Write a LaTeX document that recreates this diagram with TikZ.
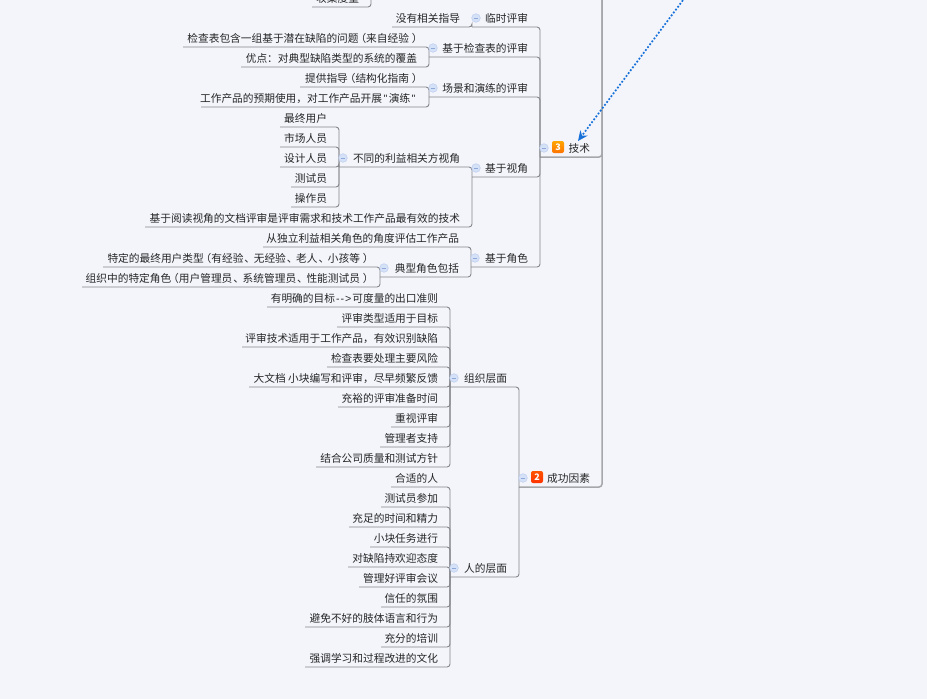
\documentclass[tikz,border=0pt]{standalone}
\usepackage{fontspec}
\setmainfont{Noto Sans CJK SC}
\newfontfamily\mmlatin{Liberation Sans}
\usetikzlibrary{arrows.meta,calc}
\definecolor{bgc}{HTML}{F3F5FB}
\definecolor{linec}{HTML}{84868C}
\definecolor{mainc}{HTML}{A6A7AB}
\definecolor{txtc}{HTML}{262626}
\definecolor{btnf}{HTML}{D5E1F7}
\definecolor{btnd}{HTML}{BCCDEE}
\definecolor{btnm}{HTML}{8FA8DA}
\definecolor{arrc}{HTML}{1570D8}
\tikzset{
  conn/.style={draw=linec,line width=0.9pt,rounded corners=3pt},
  mainconn/.style={draw=mainc,line width=1.5pt,rounded corners=3pt},
  topicbox/.style={inner sep=0pt,outer sep=0pt,minimum height=16pt,anchor=south west,text=txtc,font=\fontsize{10.7pt}{12pt}\selectfont,text height=8pt,text depth=2pt},
  btn/.style={circle,draw=btnd,fill=btnf,line width=0.5pt,minimum size=8.6pt,inner sep=0pt},
  badge/.style={rounded corners=2pt,minimum size=12pt,inner sep=0pt,text=white,font=\fontsize{9pt}{9pt}\selectfont\bfseries},
  anchorpt/.style={inner sep=0pt,outer sep=0pt,minimum size=0pt},
  linkarrow/.style={draw=arrc,line width=1.7pt,dash pattern=on 1.8pt off 1.8pt,-{Stealth[length=10pt,width=9pt]}}
}
\newcommand\mmLP{\hspace{-3.1pt}（}
\newcommand\mmRP{\hspace{3pt}）\hspace{-5.7pt}}
\newcommand\mmDN{\hspace{1pt}、\hspace{-1.4pt}}
\newcommand\mmQ{{\mmlatin\kern1.5pt\char"22\kern1.5pt}}
\newcommand\mmARR{{\mmlatin\kern1pt-\kern1pt-\kern1pt>\kern1pt}}
% [style]{name}{parent}{left}{right}{line y}{text}
\newcommand\mmtopic[7][conn]{%
  \pgfmathsetmacro\mmw{#5-#4}%
  \node[topicbox,minimum width=\mmw pt] (#2) at (#4,#6) {\makebox[\mmw pt][r]{#7\hspace{12pt}}};
  \draw[#1] (#2.south west) -- (#2.south east) -- (#3.south west);
}
\newcommand\mmbtn[1]{\node[btn] (#1-b) at ([shift={(4pt,9pt)}]#1.south west) {\textcolor{btnm}{\rule[0.2pt]{4.6pt}{0.7pt}}};}
\begin{document}
\begin{tikzpicture}[x=1pt,y=-1pt]
\path[use as bounding box,fill=bgc] (0,0) rectangle (927,699);
\begin{scope}
\clip (0,0) rectangle (927,699);
\node[anchorpt] (root) at (602,-60) {};
\node[anchorpt] (upper) at (371,-40) {};
\mmtopic[conn]{shouji}{upper}{312}{371}{7}{收集度量}
\mmtopic[mainconn]{jishu}{root}{540}{602}{157}{技术}
\mmtopic[mainconn]{chenggong}{root}{519}{602}{487}{成功因素}
% techniques
\mmtopic{linshi}{jishu}{472}{540}{27}{临时评审}
\mmtopic{meiyou}{linshi}{392}{472}{27}{没有相关指导}
\mmtopic{jiancha}{jishu}{429}{540}{57}{基于检查表的评审}
\mmtopic{jc1}{jiancha}{183}{429}{47}{检查表包含一组基于潜在缺陷的问题\mmLP 来自经验\mmRP}
\mmtopic{jc2}{jiancha}{241}{429}{67}{优点：对典型缺陷类型的系统的覆盖}
\mmtopic{changjing}{jishu}{429}{540}{97}{场景和演练的评审}
\mmtopic{cj1}{changjing}{300}{429}{87}{提供指导\mmLP 结构化指南\mmRP}
\mmtopic{cj2}{changjing}{201}{429}{107}{工作产品的预期使用，对工作产品开展\mmQ 演练\mmQ}
\mmtopic{shijiao}{jishu}{472}{540}{177}{基于视角}
\mmtopic{butong}{shijiao}{339}{472}{167}{不同的利益相关方视角}
\mmtopic{sj1}{butong}{280}{339}{127}{最终用户}
\mmtopic{sj2}{butong}{280}{339}{147}{市场人员}
\mmtopic{sj3}{butong}{280}{339}{167}{设计人员}
\mmtopic{sj4}{butong}{291}{339}{187}{测试员}
\mmtopic{sj5}{butong}{291}{339}{207}{操作员}
\mmtopic{yuedu}{shijiao}{145}{472}{227}{基于阅读视角的文档评审是评审需求和技术工作产品最有效的技术}
\mmtopic{juese}{jishu}{471}{540}{267}{基于角色}
\mmtopic{duli}{juese}{263}{471}{247}{从独立利益相关角色的角度评估工作产品}
\mmtopic{dianxing}{juese}{380}{471}{277}{典型角色包括}
\mmtopic{dx1}{dianxing}{103}{380}{267}{特定的最终用户类型\mmLP 有经验\mmDN 无经验\mmDN 老人\mmDN 小孩等\mmRP}
\mmtopic{dx2}{dianxing}{82}{380}{287}{组织中的特定角色\mmLP 用户管理员\mmDN 系统管理员\mmDN 性能测试员\mmRP}
% success factors
\mmtopic{zuzhi}{chenggong}{450}{519}{387}{组织层面}
\mmtopic{z1}{zuzhi}{267}{450}{307}{有明确的目标\mmARR 可度量的出口准则}
\mmtopic{z2}{zuzhi}{337}{450}{327}{评审类型适用于目标}
\mmtopic{z3}{zuzhi}{242}{450}{347}{评审技术适用于工作产品，有效识别缺陷}
\mmtopic{z4}{zuzhi}{327}{450}{367}{检查表要处理主要风险}
\mmtopic{z5}{zuzhi}{249}{450}{387}{大文档 小块编写和评审，尽早频繁反馈}
\mmtopic{z6}{zuzhi}{338}{450}{407}{充裕的评审准备时间}
\mmtopic{z7}{zuzhi}{391}{450}{427}{重视评审}
\mmtopic{z8}{zuzhi}{380}{450}{447}{管理者支持}
\mmtopic{z9}{zuzhi}{316}{450}{467}{结合公司质量和测试方针}
\mmtopic{renc}{chenggong}{450}{519}{577}{人的层面}
\mmtopic{r1}{renc}{391}{450}{487}{合适的人}
\mmtopic{r2}{renc}{381}{450}{507}{测试员参加}
\mmtopic{r3}{renc}{349}{450}{527}{充足的时间和精力}
\mmtopic{r4}{renc}{370}{450}{547}{小块任务进行}
\mmtopic{r5}{renc}{348}{450}{567}{对缺陷持欢迎态度}
\mmtopic{r6}{renc}{359}{450}{587}{管理好评审会议}
\mmtopic{r7}{renc}{381}{450}{607}{信任的氛围}
\mmtopic{r8}{renc}{305}{450}{627}{避免不好的肢体语言和行为}
\mmtopic{r9}{renc}{381}{450}{647}{充分的培训}
\mmtopic{r10}{renc}{305}{450}{667}{强调学习和过程改进的文化}
% collapse buttons
\mmbtn{jishu}\mmbtn{chenggong}\mmbtn{jiancha}\mmbtn{changjing}\mmbtn{shijiao}\mmbtn{butong}\mmbtn{juese}\mmbtn{dianxing}\mmbtn{zuzhi}\mmbtn{renc}
\mmbtn{linshi}
% badges
\node[badge,top color=orange!70!yellow,bottom color=orange!90!red] (b3) at ([shift={(18pt,10pt)}]jishu.south west) {3};
\node[badge,top color=orange!65!red,bottom color=orange!40!red] (b2) at ([shift={(18pt,10pt)}]chenggong.south west) {2};
% link
\node[anchorpt] (linkstart) at (698,-20) {};
\draw[linkarrow] (linkstart) -- ([xshift=38pt]jishu.north west);
\end{scope}
\end{tikzpicture}
\end{document}
